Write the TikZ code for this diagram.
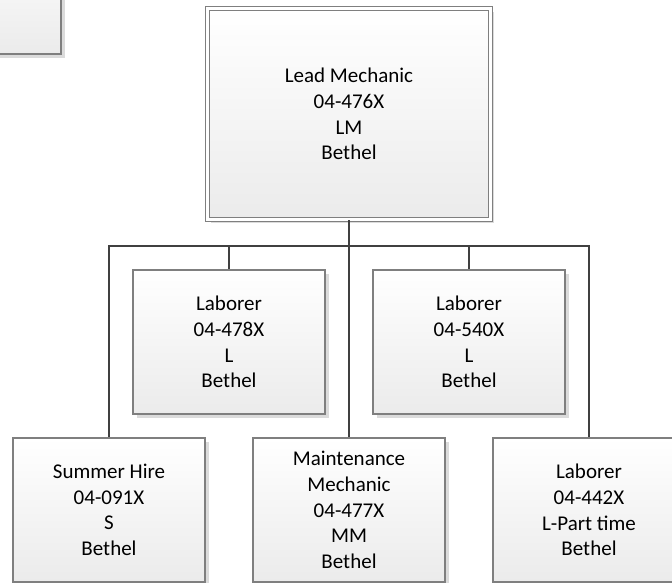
\documentclass[tikz,border=0pt]{standalone}
\usepackage{fontspec}
\setmainfont{Carlito}
\usetikzlibrary{shadows}
\definecolor{edgec}{HTML}{7F7F7F}
\definecolor{connc}{HTML}{404040}
\definecolor{fillb}{HTML}{EBEBEB}
\tikzset{
  box/.style={draw=edgec, line width=1.3pt, top color=white, bottom color=fillb,
    minimum width=192pt, minimum height=144pt, align=center, inner sep=0pt,
    font=\fontsize{21}{25.6}\selectfont, text=black,
    drop shadow={shadow xshift=3.5pt, shadow yshift=-3.5pt, fill=gray!28, opacity=1}},
  leadbox/.style={box, double=white, double distance=3pt, line width=1.1pt,
    minimum width=283pt, minimum height=211pt},
  link/.style={draw=connc, line width=2.8pt, line join=miter}
}
\begin{document}
\begin{tikzpicture}[x=1pt, y=-1pt]
\useasboundingbox (0,0) rectangle (672,582);
\clip (0,0) rectangle (672,582);
\fill[white] (0,0) rectangle (672,582);
% positions
\coordinate (bus) at (349,246);
\node[box, minimum width=150pt, minimum height=120pt] (tl) at (-14,-6) {};
% connectors (behind boxes)
\path (349,114) coordinate (leadc);
\path (229,342) coordinate (c478);
\path (469,342) coordinate (c540);
\path (109,510) coordinate (csum);
\path (349,510) coordinate (cmm);
\path (589,510) coordinate (c442);
\node[leadbox] (lead) at (leadc) {Lead Mechanic\\04-476X\\LM\\Bethel};
\draw[link] (lead.south) -- (bus);
\draw[link] (bus) -- (bus -| csum) -- (csum |- 438,438);
\draw[link] (bus) -- (bus -| c442) -- (c442 |- 438,438);
\draw[link] (bus) -- (cmm |- 438,438);
\draw[link] (bus -| c478) -- (c478 |- 270,270);
\draw[link] (bus -| c540) -- (c540 |- 270,270);
\node[box] (l478) at (c478) {Laborer\\04-478X\\L\\Bethel};
\node[box] (l540) at (c540) {Laborer\\04-540X\\L\\Bethel};
\node[box] (summer) at (csum) {Summer Hire\\04-091X\\S\\Bethel};
\node[box] (maint) at (cmm) {Maintenance\\Mechanic\\04-477X\\MM\\Bethel};
\node[box] (l442) at (c442) {Laborer\\04-442X\\L-Part time\\Bethel};
\end{tikzpicture}
\end{document}
